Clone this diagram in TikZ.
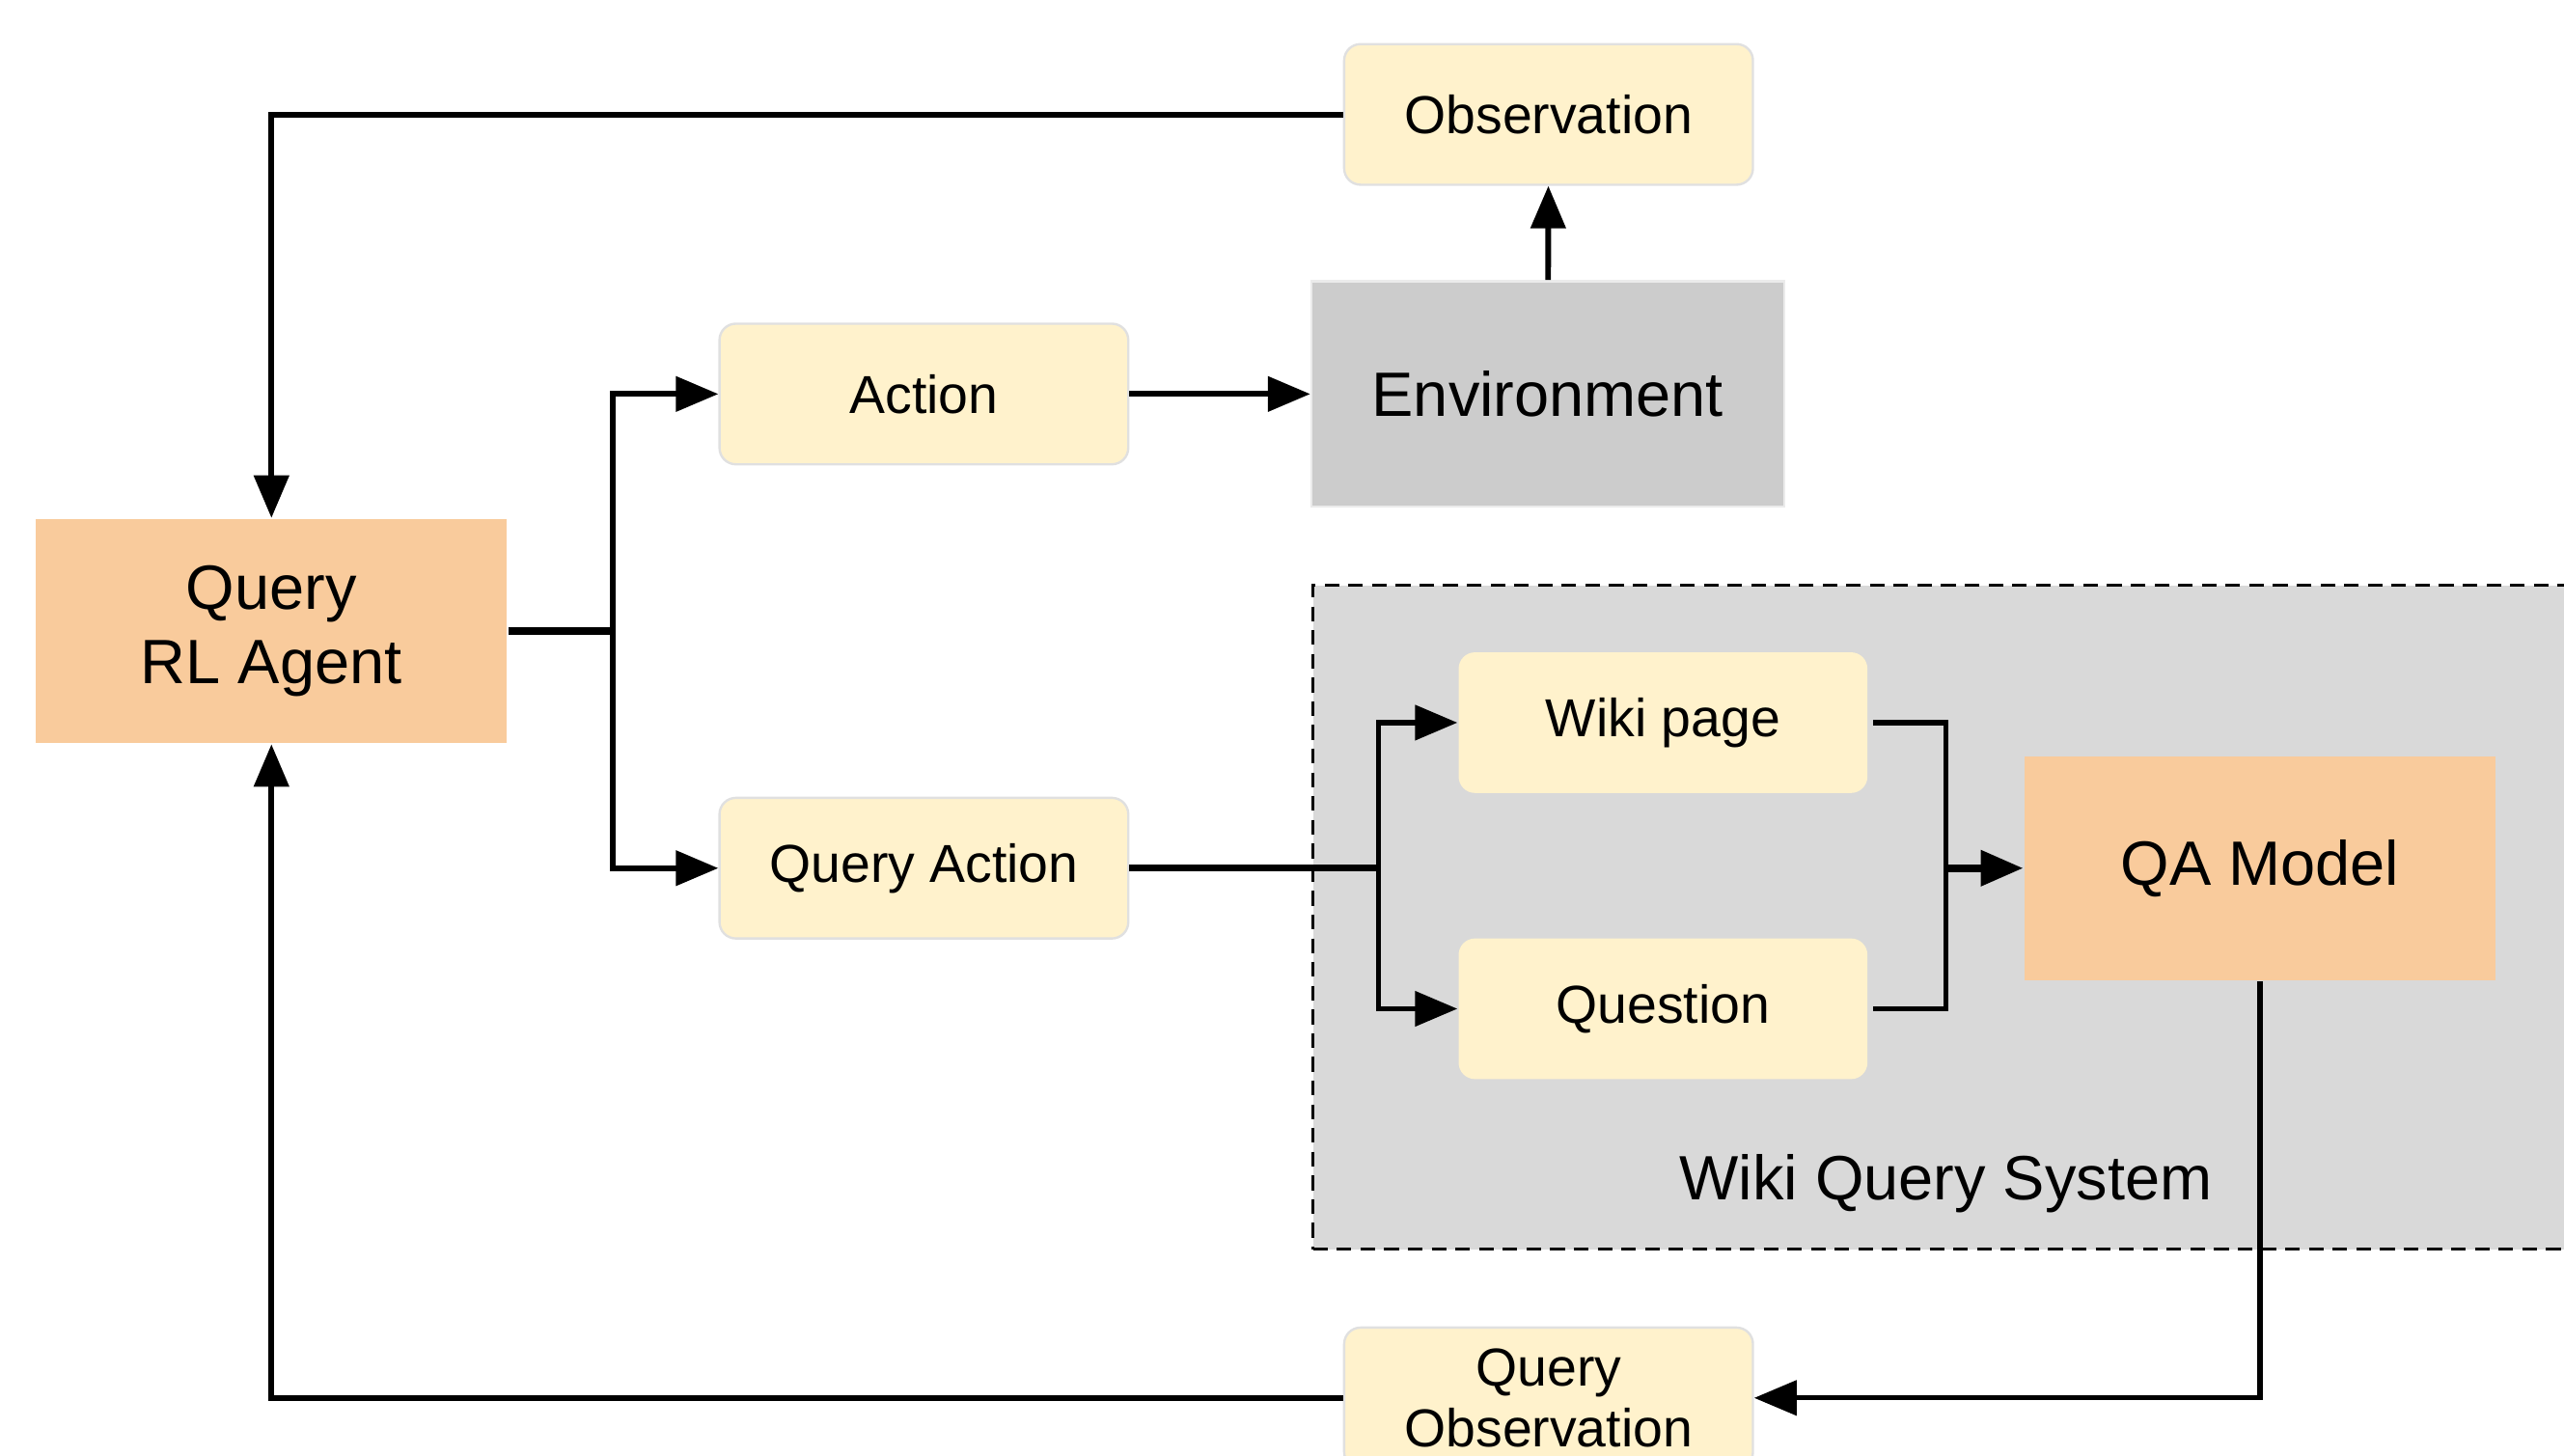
\documentclass[tikz,border=0pt]{standalone}
\usepackage{fontspec}
\setmainfont{Liberation Sans}
\usepackage{tikz}
\usetikzlibrary{arrows.meta,calc}
\definecolor{qyellow}{HTML}{FFF2CC}
\definecolor{qorange}{HTML}{F9CB9C}
\definecolor{qgray}{HTML}{CCCCCC}
\definecolor{qsys}{HTML}{D9D9D9}
\newcommand{\lblsmall}{\fontsize{9.3}{10.6}\selectfont}
\newcommand{\lblbig}{\fontsize{10.9}{12.8}\selectfont}
\tikzset{
	ybox/.style = {fill=qyellow, draw=black!12, line width=0.4pt, rounded corners=1mm,
		minimum width=2.5cm, minimum height=0.86cm, inner sep=0pt, align=center, font=\lblsmall},
	obox/.style = {fill=qorange, minimum width=2.88cm, minimum height=1.37cm,
		inner sep=0pt, align=center, font=\lblbig},
	arr/.style = {-{Triangle[length=2.6mm,width=2.1mm]}, line width=1pt},
	wire/.style = {line width=1pt}
}
\begin{document}
\begin{tikzpicture}
		\useasboundingbox (0,0) rectangle (15.68,8.90);
		\clip (0,0) rectangle (15.68,8.90);
		% wiki query system area
		\node[fill=qsys, draw, line width=0.55pt, dash pattern=on 0.9mm off 0.55mm,
			minimum width=8.2cm, minimum height=4.06cm, inner sep=0pt, anchor=north west]
			(sysbox) at (8.02,5.33) {};
		\node[font=\lblbig] (sys) at (11.90,1.66) {Wiki Query System};
		% nodes
		\node[obox] (agent) at (1.66,5.04) {Query\\RL Agent};
		\node[ybox] (obs) at (9.47,8.20) {Observation};
		\node[ybox] (act) at (5.65,6.49) {Action};
		\node[fill=qgray, draw=black!8, minimum width=2.89cm, minimum height=1.38cm,
			inner sep=0pt, font=\lblbig] (env) at (9.465,6.49) {Environment};
		\node[ybox] (qact) at (5.65,3.59) {Query Action};
		\node[ybox, draw=none] (wiki) at (10.17,4.48) {Wiki page};
		\node[ybox, draw=none] (quest) at (10.17,2.73) {Question};
		\node[obox] (qa) at (13.82,3.59) {QA Model};
		\node[ybox] (qobs) at (9.47,0.35) {Query\\Observation};
		\coordinate (split) at (3.75,5.04);
		\coordinate (fork) at (8.43,3.59);
		\coordinate (merge) at (11.90,3.59);
		% connectors
		\draw[wire, line width=1.3pt] (agent.east) -- (split);
		\draw[arr] (split) |- (act.west);
		\draw[arr] (split) |- (qact.west);
		\draw[arr] (act) -- (env);
		\draw[arr] (env) -- (obs);
		\draw[arr] (obs.west) -| (agent.north);
		\draw[wire, line width=1.2pt] (qact.east) -- (fork);
		\draw[arr] (fork) |- (wiki.west);
		\draw[arr] (fork) |- (quest.west);
		\draw[wire] ($(wiki.east)+(0.03,0)$) -| (merge);
		\draw[wire] ($(quest.east)+(0.03,0)$) -| (merge);
		\draw[arr, line width=1.4pt] (merge) -- (qa.west);
		\draw[arr, line width=0.9pt] (qa.south) |- (qobs.east);
		\draw[arr] (qobs.west) -| (agent.south);
	\end{tikzpicture}
\end{document}
